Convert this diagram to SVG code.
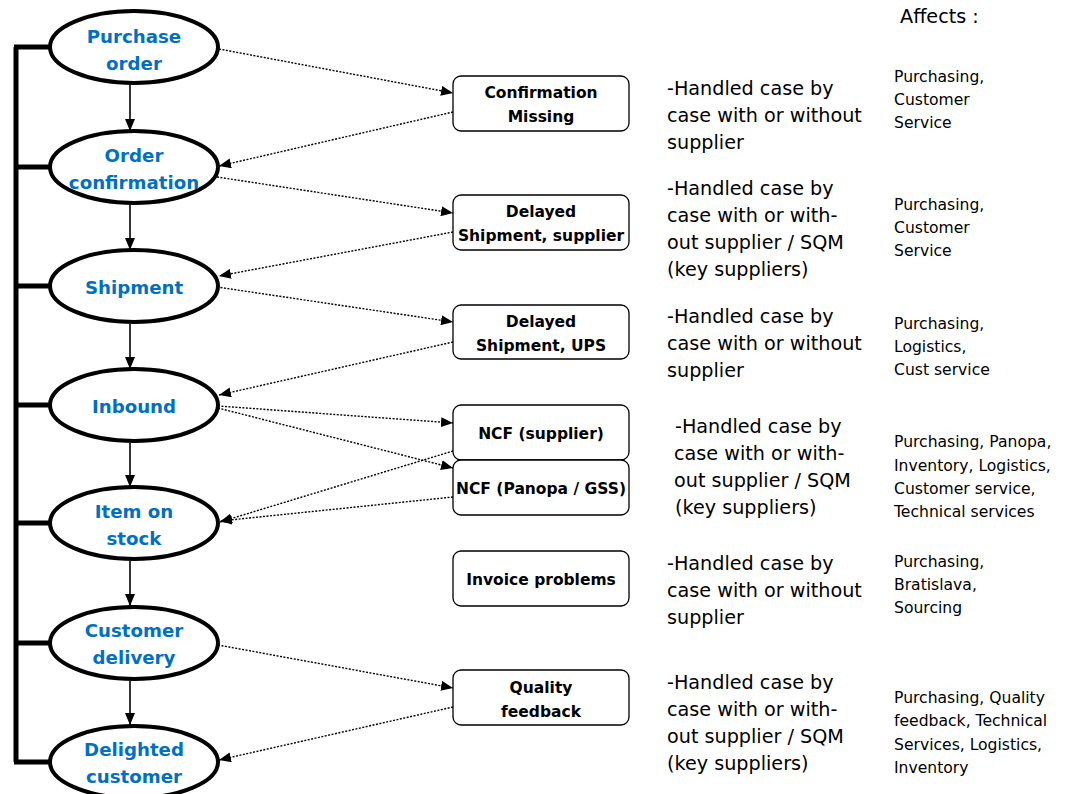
<svg xmlns="http://www.w3.org/2000/svg" width="1069" height="794" viewBox="0 0 1069 794">
<defs>
<marker id="ah" viewBox="0 0 12 10" refX="12" refY="5" markerWidth="12" markerHeight="10" markerUnits="userSpaceOnUse" orient="auto">
<path d="M0,0 L12,5 L0,10 Z" fill="#000"/>
</marker>
</defs>
<style>
.ell{fill:#fff;stroke:#000;stroke-width:4}
.et{font-family:"DejaVu Sans",sans-serif;font-weight:bold;font-size:18.2px;fill:#0070C0;text-anchor:middle}
.box{fill:#fff;stroke:#000;stroke-width:1.3}
.bt{font-family:"DejaVu Sans",sans-serif;font-weight:bold;font-size:15.5px;fill:#000;text-anchor:middle}
.ht{font-family:"DejaVu Sans",sans-serif;font-size:19.2px;fill:#000}
.at{font-family:"DejaVu Sans",sans-serif;font-size:15.6px;fill:#000}
.spine{stroke:#000;stroke-width:5;fill:none}
.flow{stroke:#000;stroke-width:1.6;fill:none;marker-end:url(#ah)}
.dot{stroke:#000;stroke-width:1.4;fill:none;stroke-dasharray:2 1.5;marker-end:url(#ah)}
</style>
<rect width="1069" height="794" fill="#fff"/>

<g id="connectors">
<path class="spine" d="M16,47 V762 M14,47 H50 M14,167 H50 M14,286 H50 M14,405 H50 M14,523 H50 M14,643 H50 M14,762 H50"/>
<line class="flow" x1="130" y1="85" x2="130" y2="131"/>
<line class="flow" x1="130" y1="205" x2="130" y2="250"/>
<line class="flow" x1="130" y1="324" x2="130" y2="369"/>
<line class="flow" x1="130" y1="443" x2="130" y2="487"/>
<line class="flow" x1="130" y1="561" x2="130" y2="606"/>
<line class="flow" x1="130" y1="681" x2="130" y2="725"/>
<line class="dot" x1="219" y1="49" x2="453" y2="93"/>
<line class="dot" x1="453" y1="112" x2="219" y2="166"/>
<line class="dot" x1="217" y1="177" x2="453" y2="213"/>
<line class="dot" x1="453" y1="232" x2="219" y2="276"/>
<line class="dot" x1="217" y1="287" x2="453" y2="322"/>
<line class="dot" x1="453" y1="342" x2="219" y2="395"/>
<line class="dot" x1="218" y1="406" x2="453" y2="423"/>
<line class="dot" x1="218" y1="408" x2="453" y2="468"/>
<line class="dot" x1="453" y1="451" x2="220" y2="522"/>
<line class="dot" x1="453" y1="497" x2="220" y2="521"/>
<line class="dot" x1="218" y1="645" x2="453" y2="688"/>
<line class="dot" x1="453" y1="707" x2="219" y2="760"/>
</g>

<g id="n-purchase-order"><ellipse class="ell" cx="134" cy="47" rx="84" ry="36"/><text class="et" x="134" y="43">Purchase</text><text class="et" x="134" y="70">order</text></g>
<g id="n-order-confirmation"><ellipse class="ell" cx="134" cy="167" rx="84" ry="36"/><text class="et" x="134" y="162">Order</text><text class="et" x="134" y="189">confirmation</text></g>
<g id="n-shipment"><ellipse class="ell" cx="134" cy="286" rx="84" ry="36"/><text class="et" x="134" y="294">Shipment</text></g>
<g id="n-inbound"><ellipse class="ell" cx="134" cy="405" rx="84" ry="36"/><text class="et" x="134" y="413">Inbound</text></g>
<g id="n-item-on-stock"><ellipse class="ell" cx="134" cy="523" rx="84" ry="36"/><text class="et" x="134" y="518">Item on</text><text class="et" x="134" y="545">stock</text></g>
<g id="n-customer-delivery"><ellipse class="ell" cx="134" cy="643" rx="84" ry="36"/><text class="et" x="134" y="637">Customer</text><text class="et" x="134" y="664">delivery</text></g>
<g id="n-delighted-customer"><ellipse class="ell" cx="134" cy="762" rx="84" ry="36"/><text class="et" x="134" y="756">Delighted</text><text class="et" x="134" y="783">customer</text></g>

<g id="b-confirmation-missing"><rect class="box" x="453" y="76" width="176" height="55" rx="8"/><text class="bt" x="541" y="98">Confirmation</text><text class="bt" x="541" y="122">Missing</text></g>
<g id="b-delayed-supplier"><rect class="box" x="453" y="195" width="176" height="55" rx="8"/><text class="bt" x="541" y="217">Delayed</text><text class="bt" x="541" y="241">Shipment, supplier</text></g>
<g id="b-delayed-ups"><rect class="box" x="453" y="305" width="176" height="54" rx="8"/><text class="bt" x="541" y="327">Delayed</text><text class="bt" x="541" y="351">Shipment, UPS</text></g>
<g id="b-ncf-supplier"><rect class="box" x="453" y="405" width="176" height="55" rx="8"/><text class="bt" x="541" y="439">NCF (supplier)</text></g>
<g id="b-ncf-panopa"><rect class="box" x="453" y="460" width="176" height="55" rx="8"/><text class="bt" x="541" y="494">NCF (Panopa / GSS)</text></g>
<g id="b-invoice"><rect class="box" x="453" y="551" width="176" height="55" rx="8"/><text class="bt" x="541" y="585">Invoice problems</text></g>
<g id="b-quality"><rect class="box" x="453" y="670" width="176" height="55" rx="8"/><text class="bt" x="541" y="693">Quality</text><text class="bt" x="541" y="717">feedback</text></g>

<g id="handling">
<text class="ht" x="667" y="95">-Handled case by</text>
<text class="ht" x="667" y="122">case with or without</text>
<text class="ht" x="667" y="149">supplier</text>
<text class="ht" x="667" y="195">-Handled case by</text>
<text class="ht" x="667" y="222">case with or with-</text>
<text class="ht" x="667" y="249">out supplier / SQM</text>
<text class="ht" x="667" y="276">(key suppliers)</text>
<text class="ht" x="667" y="323">-Handled case by</text>
<text class="ht" x="667" y="350">case with or without</text>
<text class="ht" x="667" y="377">supplier</text>
<text class="ht" x="675" y="433">-Handled case by</text>
<text class="ht" x="674" y="460">case with or with-</text>
<text class="ht" x="674" y="487">out supplier / SQM</text>
<text class="ht" x="675" y="514">(key suppliers)</text>
<text class="ht" x="667" y="570">-Handled case by</text>
<text class="ht" x="667" y="597">case with or without</text>
<text class="ht" x="667" y="624">supplier</text>
<text class="ht" x="667" y="689">-Handled case by</text>
<text class="ht" x="667" y="716">case with or with-</text>
<text class="ht" x="667" y="743">out supplier / SQM</text>
<text class="ht" x="667" y="770">(key suppliers)</text>
</g>

<g id="affects">
<text class="ht" x="900" y="23">Affects :</text>
<text class="at" x="894" y="82">Purchasing,</text>
<text class="at" x="894" y="105">Customer</text>
<text class="at" x="894" y="128">Service</text>
<text class="at" x="894" y="210">Purchasing,</text>
<text class="at" x="894" y="233">Customer</text>
<text class="at" x="894" y="256">Service</text>
<text class="at" x="894" y="329">Purchasing,</text>
<text class="at" x="894" y="352">Logistics,</text>
<text class="at" x="894" y="375">Cust service</text>
<text class="at" x="894" y="447">Purchasing, Panopa,</text>
<text class="at" x="894" y="471">Inventory, Logistics,</text>
<text class="at" x="894" y="494">Customer service,</text>
<text class="at" x="894" y="517">Technical services</text>
<text class="at" x="894" y="567">Purchasing,</text>
<text class="at" x="894" y="590">Bratislava,</text>
<text class="at" x="894" y="613">Sourcing</text>
<text class="at" x="894" y="703">Purchasing, Quality</text>
<text class="at" x="894" y="726">feedback, Technical</text>
<text class="at" x="894" y="750">Services, Logistics,</text>
<text class="at" x="894" y="773">Inventory</text>
</g>
</svg>
